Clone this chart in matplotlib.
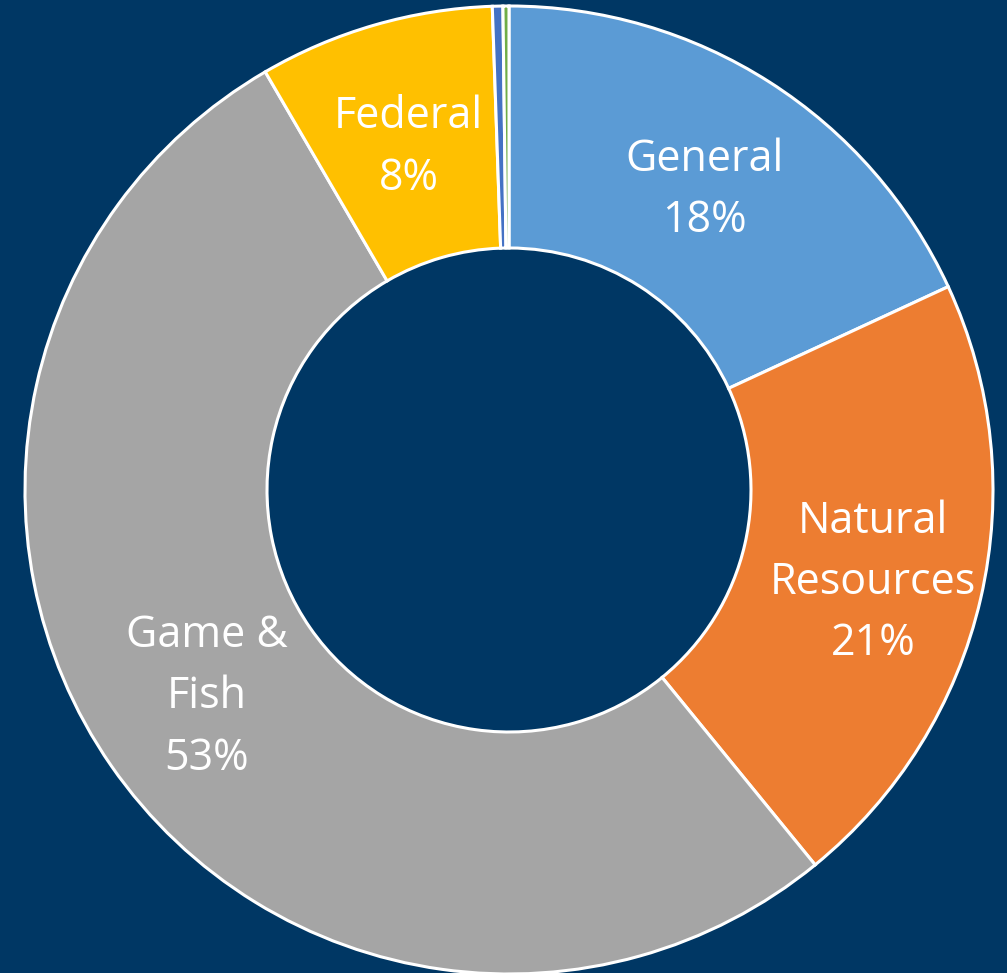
import matplotlib.pyplot as plt

# ── Data ──────────────────────────────────────────────────────────────────────
categories = ["General", "Natural\nResources", "Game &\nFish", "Federal", "Other A", "Other B"]
shares = [18.1, 21.0, 52.5, 7.85, 0.35, 0.2]
pct_labels = ["18%", "21%", "53%", "8%", "", ""]
colors = ["#5B9BD5", "#ED7D31", "#A5A5A5", "#FFC000", "#4472C4", "#70AD47"]

# label anchor points (data units, ring outer radius = 1)
label_xy = [(0.403, 0.620), (0.752, -0.192), (-0.624, -0.428), (-0.207, 0.707)]

BG = "#003764"

fig = plt.figure(figsize=(10.07, 9.73), dpi=100)
fig.patch.set_facecolor(BG)
ax = fig.add_axes([0, 0, 1, 1])
ax.set_facecolor(BG)

W, H = 1007, 973
cx, cy, r = 509, 490, 484

ax.pie(shares, colors=colors, startangle=90, counterclock=False,
       radius=1.0,
       wedgeprops=dict(width=0.5, edgecolor="white", linewidth=2.2))

# map axes so that 1 data unit == r pixels, centred at (cx, cy)
ax.set_xlim(-cx / r, (W - cx) / r)
ax.set_ylim(-(H - cy) / r, cy / r)
ax.set_aspect("auto")
ax.axis("off")

for (x, y), name, pct in zip(label_xy, categories, pct_labels):
    ax.text(x, y, f"{name}\n{pct}", ha="center", va="center", color="white",
            fontsize=31, family=["Open Sans", "DejaVu Sans"], linespacing=1.5)

fig.savefig("out.png", dpi=100, facecolor=fig.get_facecolor())
